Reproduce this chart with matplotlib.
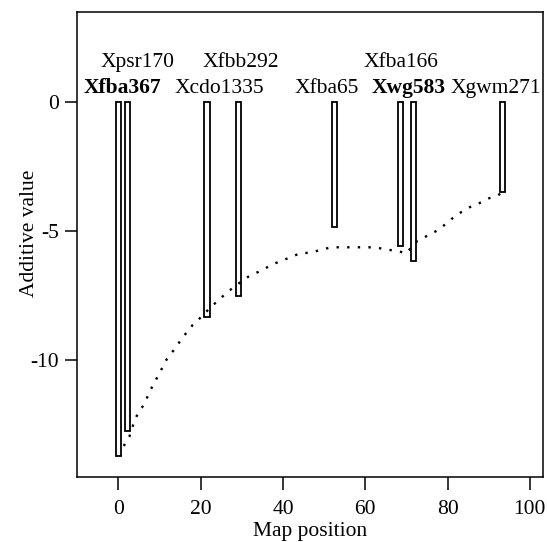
import matplotlib
matplotlib.use('Agg')
import matplotlib.pyplot as plt

# marker names, position on the map and additive value (bar bottom)
markers = ['Xfba367', 'Xpsr170', 'Xcdo1335', 'Xfbb292',
           'Xfba65', 'Xfba166', 'Xwg583', 'Xgwm271']
positions = [0.05, 2.2, 21.5, 29.2, 52.5, 68.5, 71.8, 93.4]
effects = [-13.72, -12.74, -8.34, -7.52, -4.83, -5.58, -6.16, -3.48]
bold_markers = ['Xfba367', 'Xwg583']

# dotted trend curve
curve_x = [1.3, 2.1, 2.7, 4.0, 5.1, 6.3, 7.6, 8.7, 9.8, 10.9, 11.8, 12.9,
           14.1, 15.4, 16.7, 18.0, 19.1, 20.1, 22.7, 24.2, 26.4, 28.4,
           30.4, 32.0, 34.1, 36.1, 38.1, 41.3, 44.2, 46.6, 49.0, 51.7,
           54.3, 56.3, 58.3, 60.8, 62.9, 66.2, 68.3, 69.9, 72.6, 74.0,
           75.3, 77.4, 79.8, 81.6, 83.4, 85.6, 87.6, 90.1, 91.9, 93.5]
curve_y = [-13.33, -13.10, -12.95, -12.30, -11.97, -11.71, -11.21, -10.90,
           -10.55, -10.23, -9.95, -9.73, -9.48, -9.16, -8.91, -8.65, -8.49,
           -8.33, -7.91, -7.70, -7.38, -7.13, -6.90, -6.72, -6.58, -6.41,
           -6.25, -6.05, -5.86, -5.84, -5.74, -5.63, -5.63, -5.63, -5.63,
           -5.63, -5.65, -5.74, -5.79, -5.87, -5.39, -5.28, -5.16, -4.99,
           -4.70, -4.45, -4.26, -4.06, -3.93, -3.73, -3.64, -3.50]

# label placement (x centre, row)
label_x = [0.9, 4.7, 24.5, 29.8, 50.7, 68.6, 70.6, 91.7]
label_row = [0, 1, 0, 1, 0, 1, 0, 0]
row_y = [0.34, 1.37]

plt.rcParams['font.family'] = ['Liberation Serif', 'DejaVu Serif']
plt.rcParams['font.size'] = 15.5
plt.rcParams['axes.unicode_minus'] = False  # plain hyphen like "-5"

fig = plt.figure(figsize=(5.47, 5.42), dpi=100)
ax = fig.add_axes([0.1413, 0.1205, 0.8514, 0.857])

ax.bar(positions, effects, width=1.3, bottom=0, facecolor='white',
       edgecolor='black', linewidth=1.3)
ax.plot(curve_x, curve_y, linestyle=(0, (1, 3.5)), color='black',
        linewidth=1.7)

for name, lx, r in zip(markers, label_x, label_row):
    w = 'bold' if name in bold_markers else 'normal'
    ax.text(lx, row_y[r], name, ha='center', va='baseline', fontweight=w)

ax.set_xlim(-10, 103.2)
ax.set_ylim(-14.52, 3.48)
ax.set_xticks([0, 20, 40, 60, 80, 100])
ax.set_yticks([0, -5, -10])
ax.tick_params(direction='out', length=9, width=1.1)
ax.tick_params(axis='x', pad=8)
ax.tick_params(axis='y', pad=4)
for s in ax.spines.values():
    s.set_linewidth(1.1)

ax.set_xlabel('Map position', labelpad=2)
ax.set_ylabel('Additive value')
ax.yaxis.set_label_coords(-0.082, 0.525)

plt.savefig('out.png', dpi=100)
